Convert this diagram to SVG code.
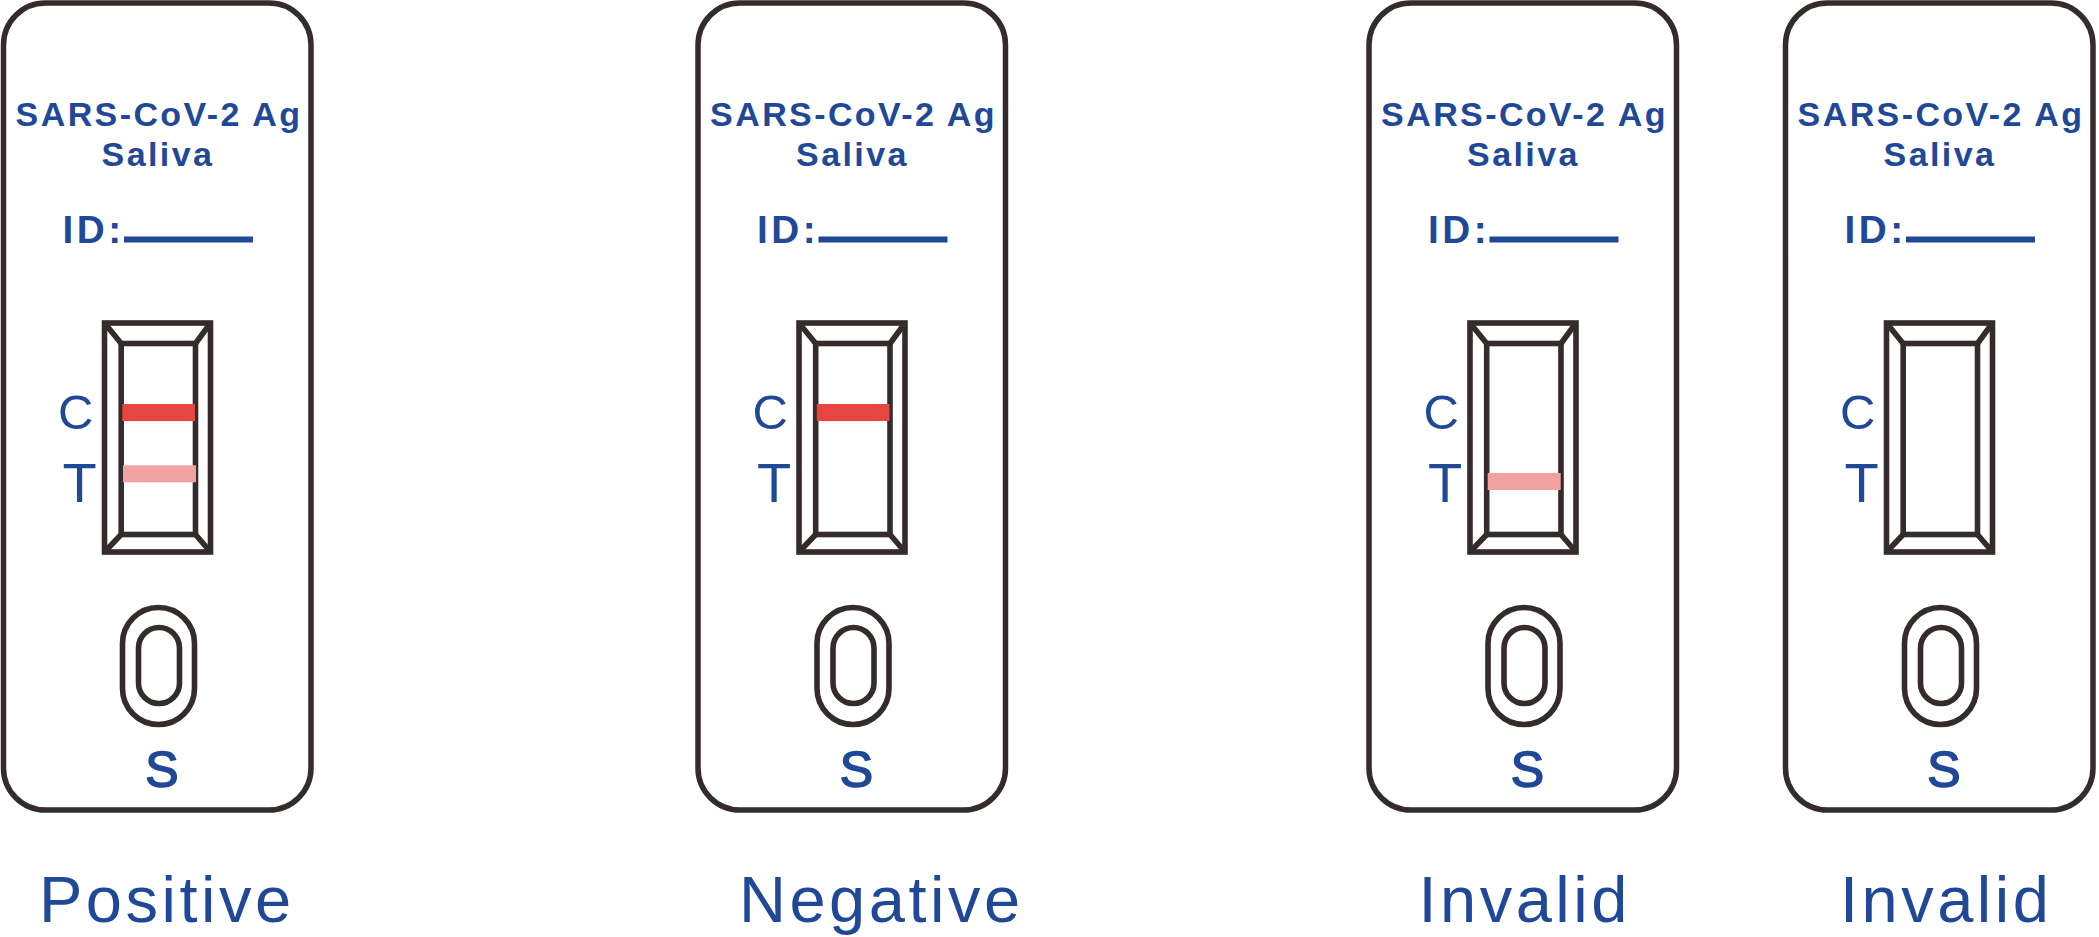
<svg xmlns="http://www.w3.org/2000/svg" width="2099" height="937" viewBox="0 0 2099 937">
<style>
.card{fill:#fff;stroke:#332c2b;stroke-width:5.5}
.ln{fill:none;stroke:#332c2b;stroke-width:5.6}
.t{fill:#1f4897;font-family:"Liberation Sans",Arial,sans-serif}
.title{font-size:34px;font-weight:bold;letter-spacing:2.4px}
.id{font-size:38.7px;font-weight:bold;letter-spacing:3.5px}
.c{font-size:49px}
.tt{font-size:56px}
.s{font-size:50px;stroke:#1f4897;stroke-width:1.6}
.lab{font-size:65px;letter-spacing:3.5px}
.uline{fill:#1f4897}
.red{fill:#e84540}
.pink{fill:#f1a2a2}
</style>
<rect width="2099" height="937" fill="#fff"/>
<g id="card-positive">
  <rect class="card" x="3.5" y="3" width="307.5" height="807" rx="42"/>
  <text class="t title" x="15.6" y="126">SARS-CoV-2 Ag</text>
  <text class="t title" x="101.6" y="166">Saliva</text>
  <text class="t id" x="62.5" y="243">ID:</text>
  <rect class="uline" x="124" y="236.5" width="129" height="6"/>
  <rect class="ln" x="104.5" y="323" width="106" height="229"/>
  <rect class="ln" x="121.2" y="343.5" width="74.3" height="191"/>
  <path class="ln" d="M104.5 323L121.2 343.5M210.5 323L195.5 343.5M104.5 552L121.2 534.5M210.5 552L195.5 534.5"/>
  <rect class="red" x="122.3" y="404" width="72.7" height="17"/>
  <rect class="pink" x="123" y="465.3" width="73" height="17"/>
  <text class="t c" x="93.5" y="429" text-anchor="end">C</text>
  <text class="t tt" x="79.5" y="501.5" text-anchor="middle">T</text>
  <rect class="ln" x="122.5" y="607.5" width="72" height="117" rx="36"/>
  <rect class="ln" x="138.5" y="627.5" width="41" height="76" rx="20.5"/>
  <text class="t s" x="162" y="787" text-anchor="middle">S</text>
  <text class="t lab" x="39" y="922">Positive</text>
</g>
<g id="card-negative" transform="translate(694.5 0)">
  <rect class="card" x="3.5" y="3" width="307.5" height="807" rx="42"/>
  <text class="t title" x="15.6" y="126">SARS-CoV-2 Ag</text>
  <text class="t title" x="101.6" y="166">Saliva</text>
  <text class="t id" x="62.5" y="243">ID:</text>
  <rect class="uline" x="124" y="236.5" width="129" height="6"/>
  <rect class="ln" x="104.5" y="323" width="106" height="229"/>
  <rect class="ln" x="121.2" y="343.5" width="74.3" height="191"/>
  <path class="ln" d="M104.5 323L121.2 343.5M210.5 323L195.5 343.5M104.5 552L121.2 534.5M210.5 552L195.5 534.5"/>
  <rect class="red" x="122.3" y="404" width="72.7" height="17"/>
  <text class="t c" x="93.5" y="429" text-anchor="end">C</text>
  <text class="t tt" x="79.5" y="501.5" text-anchor="middle">T</text>
  <rect class="ln" x="122.5" y="607.5" width="72" height="117" rx="36"/>
  <rect class="ln" x="138.5" y="627.5" width="41" height="76" rx="20.5"/>
  <text class="t s" x="162" y="787" text-anchor="middle">S</text>
  <text class="t lab" x="44.5" y="922">Negative</text>
</g>
<g id="card-invalid-1" transform="translate(1365.5 0)">
  <rect class="card" x="3.5" y="3" width="307.5" height="807" rx="42"/>
  <text class="t title" x="15.6" y="126">SARS-CoV-2 Ag</text>
  <text class="t title" x="101.6" y="166">Saliva</text>
  <text class="t id" x="62.5" y="243">ID:</text>
  <rect class="uline" x="124" y="236.5" width="129" height="6"/>
  <rect class="ln" x="104.5" y="323" width="106" height="229"/>
  <rect class="ln" x="121.2" y="343.5" width="74.3" height="191"/>
  <path class="ln" d="M104.5 323L121.2 343.5M210.5 323L195.5 343.5M104.5 552L121.2 534.5M210.5 552L195.5 534.5"/>
  <rect class="pink" x="122.2" y="473" width="73" height="17"/>
  <text class="t c" x="93.5" y="429" text-anchor="end">C</text>
  <text class="t tt" x="79.5" y="501.5" text-anchor="middle">T</text>
  <rect class="ln" x="122.5" y="607.5" width="72" height="117" rx="36"/>
  <rect class="ln" x="138.5" y="627.5" width="41" height="76" rx="20.5"/>
  <text class="t s" x="162" y="787" text-anchor="middle">S</text>
  <text class="t lab" x="53" y="922">Invalid</text>
</g>
<g id="card-invalid-2" transform="translate(1782 0)">
  <rect class="card" x="3.5" y="3" width="307.5" height="807" rx="42"/>
  <text class="t title" x="15.6" y="126">SARS-CoV-2 Ag</text>
  <text class="t title" x="101.6" y="166">Saliva</text>
  <text class="t id" x="62.5" y="243">ID:</text>
  <rect class="uline" x="124" y="236.5" width="129" height="6"/>
  <rect class="ln" x="104.5" y="323" width="106" height="229"/>
  <rect class="ln" x="121.2" y="343.5" width="74.3" height="191"/>
  <path class="ln" d="M104.5 323L121.2 343.5M210.5 323L195.5 343.5M104.5 552L121.2 534.5M210.5 552L195.5 534.5"/>
  <text class="t c" x="93.5" y="429" text-anchor="end">C</text>
  <text class="t tt" x="79.5" y="501.5" text-anchor="middle">T</text>
  <rect class="ln" x="122.5" y="607.5" width="72" height="117" rx="36"/>
  <rect class="ln" x="138.5" y="627.5" width="41" height="76" rx="20.5"/>
  <text class="t s" x="162" y="787" text-anchor="middle">S</text>
  <text class="t lab" x="58" y="922">Invalid</text>
</g>
<g id="connectors"/>
</svg>
